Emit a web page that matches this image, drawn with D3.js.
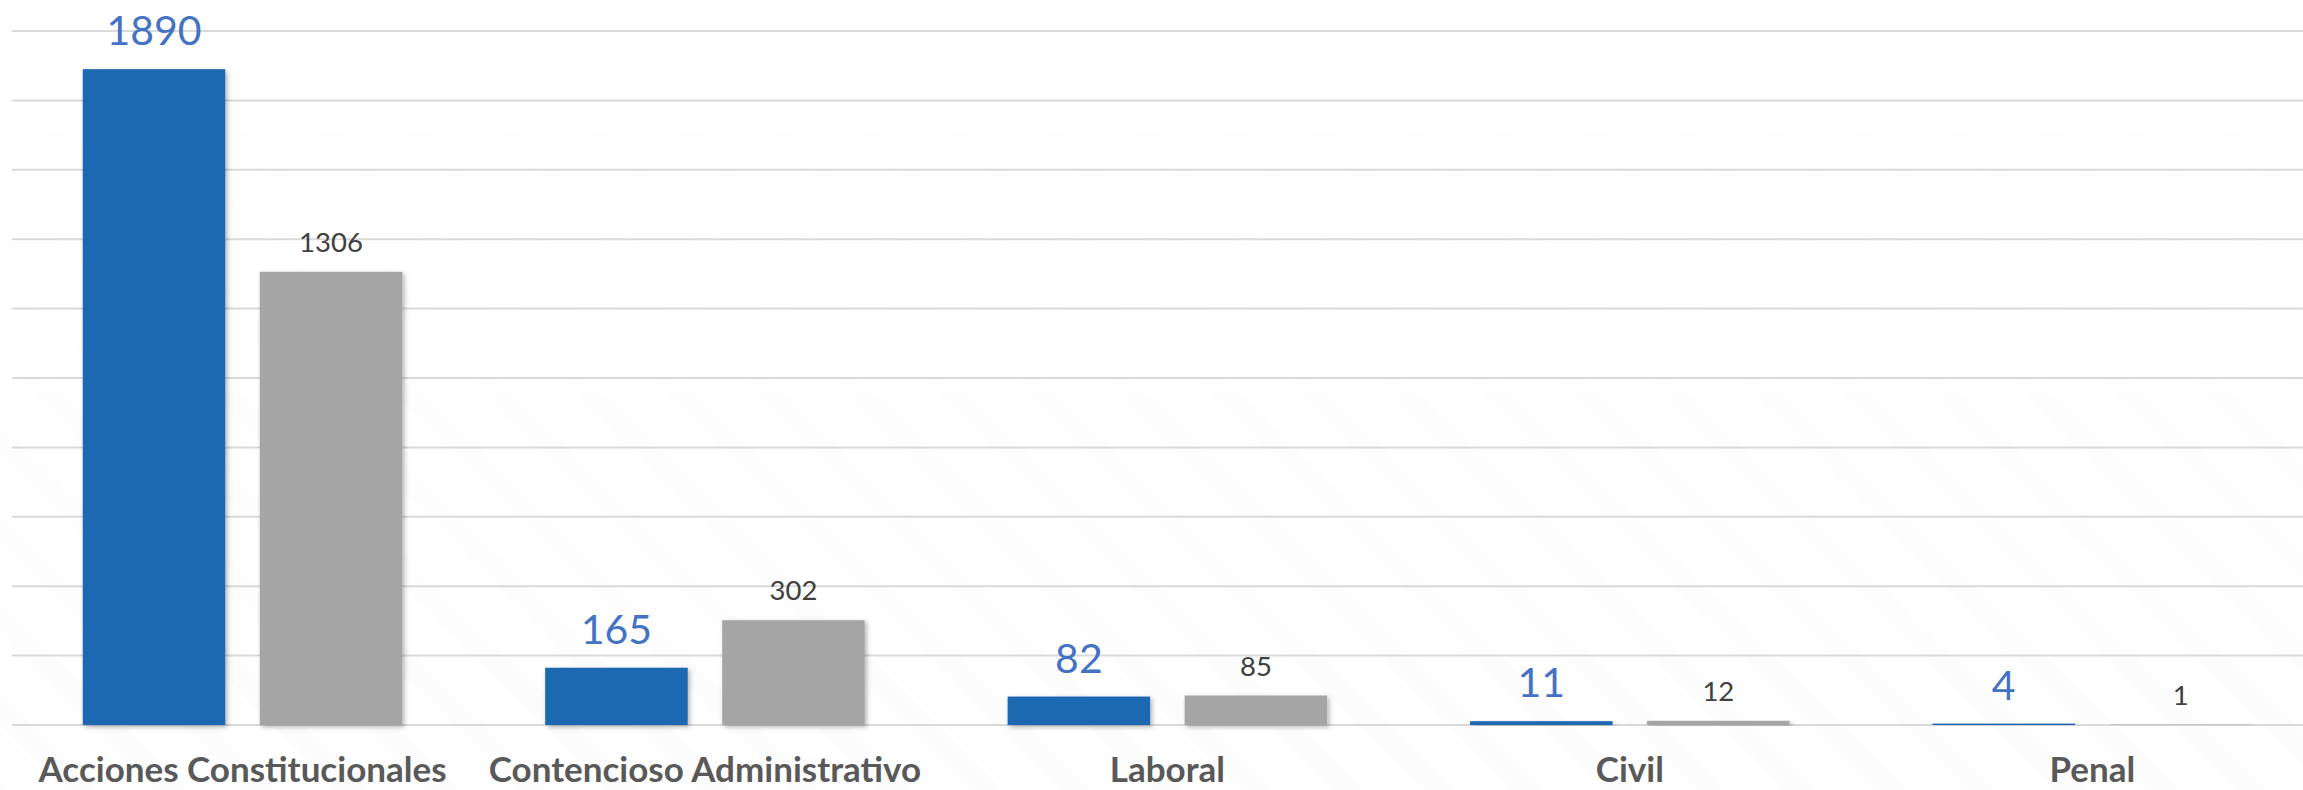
<!DOCTYPE html>
<html><head><meta charset="utf-8">
<script src="https://cdn.jsdelivr.net/npm/d3@7"></script>
<style>html,body{margin:0;padding:0;background:#fff;overflow:hidden}</style>
</head><body>
<svg id="chart" width="2303" height="790"></svg>
<script>
const categories = ["Acciones Constitucionales","Contencioso Administrativo","Laboral","Civil","Penal"];
const seriesNames = ["Serie A","Serie B"];
const seriesA = [1890,165,82,11,4];
const seriesB = [1306,302,85,12,1];
const yTicks = [0,200,400,600,800,1000,1200,1400,1600,1800,2000];

const W = 2303, H = 790;
const svg = d3.select("#chart");
const defs = svg.append("defs");
const pat = defs.append("pattern").attr("id","stripes").attr("patternUnits","userSpaceOnUse")
  .attr("width",64).attr("height",64).attr("patternTransform","rotate(-45)");
pat.append("rect").attr("x",0).attr("y",0).attr("width",22).attr("height",64).attr("fill","#fcfcfc");
const grad = defs.append("linearGradient").attr("id","fade").attr("x1",0).attr("y1",0).attr("x2",0).attr("y2",1);
grad.append("stop").attr("offset","0%").attr("stop-color","#fff").attr("stop-opacity",0);
grad.append("stop").attr("offset","100%").attr("stop-color","#fff").attr("stop-opacity",1);
const mask = defs.append("mask").attr("id","fmask");
mask.append("rect").attr("width",W).attr("height",H).attr("fill","url(#fade)");
const f = defs.append("filter").attr("id","shadow").attr("x","-20%").attr("y","-20%").attr("width","140%").attr("height","140%");
f.append("feDropShadow").attr("dx",2).attr("dy",2).attr("stdDeviation",2.5).attr("flood-color","#000").attr("flood-opacity",0.3);

svg.append("rect").attr("width",W).attr("height",H).attr("fill","#fff");
svg.append("rect").attr("width",W).attr("height",H).attr("fill","url(#stripes)").attr("mask","url(#fmask)");

const y = d3.scaleLinear().domain([0,2000]).range([725,31]);
const x0 = d3.scaleBand().domain(categories).range([11.3,2323.5]).paddingInner(0.309).paddingOuter(0.1545);
const x1 = d3.scaleBand().domain(seriesNames).range([0,x0.bandwidth()]).paddingInner(0.195);

// gridlines
svg.append("g").selectAll("line").data(yTicks).join("line")
  .attr("x1",12).attr("x2",W).attr("y1",d=>y(d)).attr("y2",d=>y(d))
  .attr("stroke","#d9d9d9").attr("stroke-width",2);

const colors = {"Serie A":"#1f67b1","Serie B":"#a5a5a5"};
const labelStyle = {"Serie A":{fill:"#4472c4",size:41,gap:24},"Serie B":{fill:"#404040",size:27.5,gap:20}};
const rows = categories.map((c,i)=>({cat:c, vals:[{s:"Serie A",v:seriesA[i]},{s:"Serie B",v:seriesB[i]}]}));

const g = svg.append("g").selectAll("g").data(rows).join("g")
  .attr("transform",d=>`translate(${x0(d.cat)},0)`);
g.selectAll("rect").data(d=>d.vals).join("rect")
  .attr("x",d=>x1(d.s)).attr("width",x1.bandwidth())
  .attr("y",d=>y(d.v)).attr("height",d=>Math.max(0,y(0)-y(d.v)))
  .attr("fill",d=>colors[d.s]).attr("filter","url(#shadow)");
g.selectAll("text").data(d=>d.vals).join("text")
  .attr("x",d=>x1(d.s)+x1.bandwidth()/2).attr("y",d=>y(d.v)-labelStyle[d.s].gap)
  .attr("text-anchor","middle").attr("font-family","Lato, sans-serif")
  .attr("font-size",d=>labelStyle[d.s].size).attr("fill",d=>labelStyle[d.s].fill)
  .text(d=>d.v);

// category axis labels
svg.append("g").selectAll("text").data(categories).join("text")
  .attr("x",d=>x0(d)+x0.bandwidth()/2).attr("y",782)
  .attr("text-anchor","middle").attr("font-family","Lato, sans-serif").attr("font-weight","bold")
  .attr("font-size",35).attr("fill","#595959").text(d=>d);
</script>
</body></html>
